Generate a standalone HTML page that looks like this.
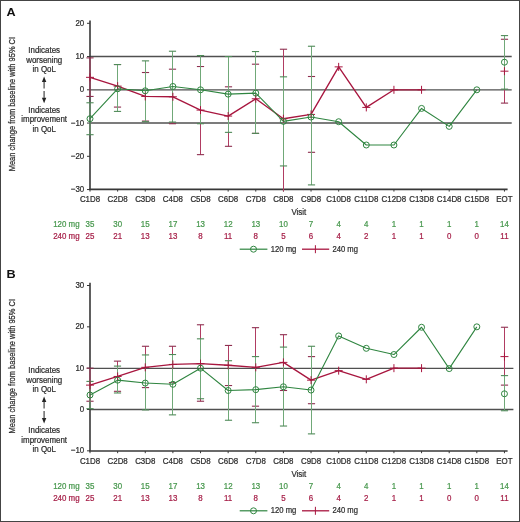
<!DOCTYPE html>
<html><head><meta charset="utf-8"><style>
html,body{margin:0;padding:0;background:#fff;}
svg{display:block;will-change:transform;}
.t{font-family:"Liberation Sans", sans-serif;font-size:9.0px;fill:#2e2e2e;stroke:#2e2e2e;stroke-width:0.25px;}
.L{font-family:"Liberation Sans", sans-serif;font-size:11px;font-weight:bold;fill:#111;}
.yl{font-family:"Liberation Sans", sans-serif;font-size:9.2px;fill:#2e2e2e;stroke:#2e2e2e;stroke-width:0.25px;}
</style></head><body>
<svg width="520" height="522" viewBox="0 0 520 522">
<rect x="0.5" y="0.5" width="519" height="521" fill="#fff" stroke="#444" stroke-width="1"/>
<line x1="90.00" y1="56.50" x2="511.70" y2="56.50" stroke="#505050" stroke-width="1.3"/>
<line x1="90.00" y1="89.90" x2="511.70" y2="89.90" stroke="#505050" stroke-width="1.4"/>
<line x1="90.00" y1="123.00" x2="511.70" y2="123.00" stroke="#505050" stroke-width="1.4"/>
<line x1="90.00" y1="20.50" x2="90.00" y2="189.40" stroke="#383838" stroke-width="1.6"/>
<line x1="89.20" y1="189.40" x2="507.60" y2="189.40" stroke="#383838" stroke-width="1.6"/>
<line x1="87.00" y1="23.30" x2="90.00" y2="23.30" stroke="#383838" stroke-width="1.0"/>
<text transform="translate(84.20,25.90) scale(0.88,1)" text-anchor="end" class="t">20</text>
<line x1="87.00" y1="56.55" x2="90.00" y2="56.55" stroke="#383838" stroke-width="1.0"/>
<text transform="translate(84.20,59.15) scale(0.88,1)" text-anchor="end" class="t">10</text>
<line x1="87.00" y1="89.80" x2="90.00" y2="89.80" stroke="#383838" stroke-width="1.0"/>
<text transform="translate(84.20,92.40) scale(0.88,1)" text-anchor="end" class="t">0</text>
<line x1="87.00" y1="123.05" x2="90.00" y2="123.05" stroke="#383838" stroke-width="1.0"/>
<text transform="translate(84.20,125.65) scale(0.88,1)" text-anchor="end" class="t">−10</text>
<line x1="87.00" y1="156.30" x2="90.00" y2="156.30" stroke="#383838" stroke-width="1.0"/>
<text transform="translate(84.20,158.90) scale(0.88,1)" text-anchor="end" class="t">−20</text>
<line x1="87.00" y1="189.55" x2="90.00" y2="189.55" stroke="#383838" stroke-width="1.0"/>
<text transform="translate(84.20,192.15) scale(0.88,1)" text-anchor="end" class="t">−30</text>
<line x1="90.00" y1="189.40" x2="90.00" y2="191.60" stroke="#383838" stroke-width="1.0"/>
<text transform="translate(90.00,202.30) scale(0.88,1)" text-anchor="middle" class="t">C1D8</text>
<text transform="translate(90.00,227.30) scale(0.88,1)" text-anchor="middle" class="t" style="fill:#48984e;stroke:#48984e">35</text>
<text transform="translate(90.00,239.10) scale(0.88,1)" text-anchor="middle" class="t" style="fill:#a61f48;stroke:#a61f48">25</text>
<line x1="117.63" y1="189.40" x2="117.63" y2="191.60" stroke="#383838" stroke-width="1.0"/>
<text transform="translate(117.63,202.30) scale(0.88,1)" text-anchor="middle" class="t">C2D8</text>
<text transform="translate(117.63,227.30) scale(0.88,1)" text-anchor="middle" class="t" style="fill:#48984e;stroke:#48984e">30</text>
<text transform="translate(117.63,239.10) scale(0.88,1)" text-anchor="middle" class="t" style="fill:#a61f48;stroke:#a61f48">21</text>
<line x1="145.26" y1="189.40" x2="145.26" y2="191.60" stroke="#383838" stroke-width="1.0"/>
<text transform="translate(145.26,202.30) scale(0.88,1)" text-anchor="middle" class="t">C3D8</text>
<text transform="translate(145.26,227.30) scale(0.88,1)" text-anchor="middle" class="t" style="fill:#48984e;stroke:#48984e">15</text>
<text transform="translate(145.26,239.10) scale(0.88,1)" text-anchor="middle" class="t" style="fill:#a61f48;stroke:#a61f48">13</text>
<line x1="172.89" y1="189.40" x2="172.89" y2="191.60" stroke="#383838" stroke-width="1.0"/>
<text transform="translate(172.89,202.30) scale(0.88,1)" text-anchor="middle" class="t">C4D8</text>
<text transform="translate(172.89,227.30) scale(0.88,1)" text-anchor="middle" class="t" style="fill:#48984e;stroke:#48984e">17</text>
<text transform="translate(172.89,239.10) scale(0.88,1)" text-anchor="middle" class="t" style="fill:#a61f48;stroke:#a61f48">13</text>
<line x1="200.52" y1="189.40" x2="200.52" y2="191.60" stroke="#383838" stroke-width="1.0"/>
<text transform="translate(200.52,202.30) scale(0.88,1)" text-anchor="middle" class="t">C5D8</text>
<text transform="translate(200.52,227.30) scale(0.88,1)" text-anchor="middle" class="t" style="fill:#48984e;stroke:#48984e">13</text>
<text transform="translate(200.52,239.10) scale(0.88,1)" text-anchor="middle" class="t" style="fill:#a61f48;stroke:#a61f48">8</text>
<line x1="228.15" y1="189.40" x2="228.15" y2="191.60" stroke="#383838" stroke-width="1.0"/>
<text transform="translate(228.15,202.30) scale(0.88,1)" text-anchor="middle" class="t">C6D8</text>
<text transform="translate(228.15,227.30) scale(0.88,1)" text-anchor="middle" class="t" style="fill:#48984e;stroke:#48984e">12</text>
<text transform="translate(228.15,239.10) scale(0.88,1)" text-anchor="middle" class="t" style="fill:#a61f48;stroke:#a61f48">11</text>
<line x1="255.78" y1="189.40" x2="255.78" y2="191.60" stroke="#383838" stroke-width="1.0"/>
<text transform="translate(255.78,202.30) scale(0.88,1)" text-anchor="middle" class="t">C7D8</text>
<text transform="translate(255.78,227.30) scale(0.88,1)" text-anchor="middle" class="t" style="fill:#48984e;stroke:#48984e">13</text>
<text transform="translate(255.78,239.10) scale(0.88,1)" text-anchor="middle" class="t" style="fill:#a61f48;stroke:#a61f48">8</text>
<line x1="283.41" y1="189.40" x2="283.41" y2="191.60" stroke="#383838" stroke-width="1.0"/>
<text transform="translate(283.41,202.30) scale(0.88,1)" text-anchor="middle" class="t">C8D8</text>
<text transform="translate(283.41,227.30) scale(0.88,1)" text-anchor="middle" class="t" style="fill:#48984e;stroke:#48984e">10</text>
<text transform="translate(283.41,239.10) scale(0.88,1)" text-anchor="middle" class="t" style="fill:#a61f48;stroke:#a61f48">5</text>
<line x1="311.04" y1="189.40" x2="311.04" y2="191.60" stroke="#383838" stroke-width="1.0"/>
<text transform="translate(311.04,202.30) scale(0.88,1)" text-anchor="middle" class="t">C9D8</text>
<text transform="translate(311.04,227.30) scale(0.88,1)" text-anchor="middle" class="t" style="fill:#48984e;stroke:#48984e">7</text>
<text transform="translate(311.04,239.10) scale(0.88,1)" text-anchor="middle" class="t" style="fill:#a61f48;stroke:#a61f48">6</text>
<line x1="338.67" y1="189.40" x2="338.67" y2="191.60" stroke="#383838" stroke-width="1.0"/>
<text transform="translate(338.67,202.30) scale(0.88,1)" text-anchor="middle" class="t">C10D8</text>
<text transform="translate(338.67,227.30) scale(0.88,1)" text-anchor="middle" class="t" style="fill:#48984e;stroke:#48984e">4</text>
<text transform="translate(338.67,239.10) scale(0.88,1)" text-anchor="middle" class="t" style="fill:#a61f48;stroke:#a61f48">4</text>
<line x1="366.30" y1="189.40" x2="366.30" y2="191.60" stroke="#383838" stroke-width="1.0"/>
<text transform="translate(366.30,202.30) scale(0.88,1)" text-anchor="middle" class="t">C11D8</text>
<text transform="translate(366.30,227.30) scale(0.88,1)" text-anchor="middle" class="t" style="fill:#48984e;stroke:#48984e">4</text>
<text transform="translate(366.30,239.10) scale(0.88,1)" text-anchor="middle" class="t" style="fill:#a61f48;stroke:#a61f48">2</text>
<line x1="393.93" y1="189.40" x2="393.93" y2="191.60" stroke="#383838" stroke-width="1.0"/>
<text transform="translate(393.93,202.30) scale(0.88,1)" text-anchor="middle" class="t">C12D8</text>
<text transform="translate(393.93,227.30) scale(0.88,1)" text-anchor="middle" class="t" style="fill:#48984e;stroke:#48984e">1</text>
<text transform="translate(393.93,239.10) scale(0.88,1)" text-anchor="middle" class="t" style="fill:#a61f48;stroke:#a61f48">1</text>
<line x1="421.56" y1="189.40" x2="421.56" y2="191.60" stroke="#383838" stroke-width="1.0"/>
<text transform="translate(421.56,202.30) scale(0.88,1)" text-anchor="middle" class="t">C13D8</text>
<text transform="translate(421.56,227.30) scale(0.88,1)" text-anchor="middle" class="t" style="fill:#48984e;stroke:#48984e">1</text>
<text transform="translate(421.56,239.10) scale(0.88,1)" text-anchor="middle" class="t" style="fill:#a61f48;stroke:#a61f48">1</text>
<line x1="449.19" y1="189.40" x2="449.19" y2="191.60" stroke="#383838" stroke-width="1.0"/>
<text transform="translate(449.19,202.30) scale(0.88,1)" text-anchor="middle" class="t">C14D8</text>
<text transform="translate(449.19,227.30) scale(0.88,1)" text-anchor="middle" class="t" style="fill:#48984e;stroke:#48984e">1</text>
<text transform="translate(449.19,239.10) scale(0.88,1)" text-anchor="middle" class="t" style="fill:#a61f48;stroke:#a61f48">0</text>
<line x1="476.82" y1="189.40" x2="476.82" y2="191.60" stroke="#383838" stroke-width="1.0"/>
<text transform="translate(476.82,202.30) scale(0.88,1)" text-anchor="middle" class="t">C15D8</text>
<text transform="translate(476.82,227.30) scale(0.88,1)" text-anchor="middle" class="t" style="fill:#48984e;stroke:#48984e">1</text>
<text transform="translate(476.82,239.10) scale(0.88,1)" text-anchor="middle" class="t" style="fill:#a61f48;stroke:#a61f48">0</text>
<line x1="504.45" y1="189.40" x2="504.45" y2="191.60" stroke="#383838" stroke-width="1.0"/>
<text transform="translate(504.45,202.30) scale(0.88,1)" text-anchor="middle" class="t">EOT</text>
<text transform="translate(504.45,227.30) scale(0.88,1)" text-anchor="middle" class="t" style="fill:#48984e;stroke:#48984e">14</text>
<text transform="translate(504.45,239.10) scale(0.88,1)" text-anchor="middle" class="t" style="fill:#a61f48;stroke:#a61f48">11</text>
<text transform="translate(298.80,215.00) scale(0.88,1)" text-anchor="middle" class="t">Visit</text>
<text transform="translate(79.60,227.30) scale(0.88,1)" text-anchor="end" class="t" style="fill:#48984e;stroke:#48984e">120 mg</text>
<text transform="translate(79.60,239.10) scale(0.88,1)" text-anchor="end" class="t" style="fill:#a61f48;stroke:#a61f48">240 mg</text>
<line x1="239.70" y1="249.20" x2="267.40" y2="249.20" stroke="#2f8540" stroke-width="1.2"/>
<circle cx="253.5" cy="249.20" r="3.0" fill="none" stroke="#2f8540" stroke-width="1"/>
<text transform="translate(270.80,251.80) scale(0.85,1)" class="t">120 mg</text>
<line x1="302.00" y1="249.20" x2="329.20" y2="249.20" stroke="#a8163f" stroke-width="1.3"/>
<line x1="315.40" y1="245.20" x2="315.40" y2="253.20" stroke="#a8163f" stroke-width="1.0"/>
<text transform="translate(332.40,251.80) scale(0.85,1)" class="t">240 mg</text>
<text transform="translate(6.60,16.10) scale(1.15,1)" class="L">A</text>
<text transform="translate(15.2,104.10) rotate(-90)" text-anchor="middle" class="yl" textLength="134.4" lengthAdjust="spacingAndGlyphs">Mean change from baseline with 95% CI</text>
<text transform="translate(44.20,53.10) scale(0.88,1)" text-anchor="middle" class="t">Indicates</text>
<text transform="translate(44.20,62.70) scale(0.88,1)" text-anchor="middle" class="t">worsening</text>
<text transform="translate(44.20,72.30) scale(0.88,1)" text-anchor="middle" class="t">in QoL</text>
<text transform="translate(44.20,112.70) scale(0.88,1)" text-anchor="middle" class="t">Indicates</text>
<text transform="translate(44.20,122.40) scale(0.88,1)" text-anchor="middle" class="t">improvement</text>
<text transform="translate(44.20,132.10) scale(0.88,1)" text-anchor="middle" class="t">in QoL</text>
<path d="M44.1 76.50 L46.3 82.00 L41.9 82.00 Z" fill="#222"/>
<path d="M44.1 103.30 L46.3 97.80 L41.9 97.80 Z" fill="#222"/>
<line x1="44.10" y1="81.70" x2="44.10" y2="88.50" stroke="#555" stroke-width="1.3"/>
<line x1="44.10" y1="90.90" x2="44.10" y2="98.10" stroke="#555" stroke-width="1.3"/>
<line x1="90.00" y1="57.88" x2="90.00" y2="96.45" stroke="#b03c62" stroke-width="1.0"/>
<line x1="86.40" y1="57.88" x2="93.60" y2="57.88" stroke="#8e2f50" stroke-width="1.1"/>
<line x1="86.40" y1="96.45" x2="93.60" y2="96.45" stroke="#8e2f50" stroke-width="1.1"/>
<line x1="117.50" y1="64.53" x2="117.50" y2="107.09" stroke="#b03c62" stroke-width="1.0"/>
<line x1="113.90" y1="64.53" x2="121.10" y2="64.53" stroke="#8e2f50" stroke-width="1.1"/>
<line x1="113.90" y1="107.09" x2="121.10" y2="107.09" stroke="#8e2f50" stroke-width="1.1"/>
<line x1="145.50" y1="72.51" x2="145.50" y2="121.06" stroke="#b03c62" stroke-width="1.0"/>
<line x1="141.90" y1="72.51" x2="149.10" y2="72.51" stroke="#8e2f50" stroke-width="1.1"/>
<line x1="141.90" y1="121.06" x2="149.10" y2="121.06" stroke="#8e2f50" stroke-width="1.1"/>
<line x1="172.50" y1="69.19" x2="172.50" y2="123.72" stroke="#b03c62" stroke-width="1.0"/>
<line x1="168.90" y1="69.19" x2="176.10" y2="69.19" stroke="#8e2f50" stroke-width="1.1"/>
<line x1="168.90" y1="123.72" x2="176.10" y2="123.72" stroke="#8e2f50" stroke-width="1.1"/>
<line x1="200.50" y1="66.52" x2="200.50" y2="154.64" stroke="#b03c62" stroke-width="1.0"/>
<line x1="196.90" y1="66.52" x2="204.10" y2="66.52" stroke="#8e2f50" stroke-width="1.1"/>
<line x1="196.90" y1="154.64" x2="204.10" y2="154.64" stroke="#8e2f50" stroke-width="1.1"/>
<line x1="228.50" y1="86.81" x2="228.50" y2="146.32" stroke="#b03c62" stroke-width="1.0"/>
<line x1="224.90" y1="86.81" x2="232.10" y2="86.81" stroke="#8e2f50" stroke-width="1.1"/>
<line x1="224.90" y1="146.32" x2="232.10" y2="146.32" stroke="#8e2f50" stroke-width="1.1"/>
<line x1="255.50" y1="64.20" x2="255.50" y2="133.36" stroke="#b03c62" stroke-width="1.0"/>
<line x1="251.90" y1="64.20" x2="259.10" y2="64.20" stroke="#8e2f50" stroke-width="1.1"/>
<line x1="251.90" y1="133.36" x2="259.10" y2="133.36" stroke="#8e2f50" stroke-width="1.1"/>
<line x1="283.50" y1="49.23" x2="283.50" y2="191.40" stroke="#b03c62" stroke-width="1.0"/>
<line x1="279.90" y1="49.23" x2="287.10" y2="49.23" stroke="#8e2f50" stroke-width="1.1"/>
<line x1="311.50" y1="76.50" x2="311.50" y2="152.31" stroke="#b03c62" stroke-width="1.0"/>
<line x1="307.90" y1="76.50" x2="315.10" y2="76.50" stroke="#8e2f50" stroke-width="1.1"/>
<line x1="307.90" y1="152.31" x2="315.10" y2="152.31" stroke="#8e2f50" stroke-width="1.1"/>
<line x1="504.50" y1="39.26" x2="504.50" y2="103.10" stroke="#b03c62" stroke-width="1.0"/>
<line x1="500.90" y1="39.26" x2="508.10" y2="39.26" stroke="#8e2f50" stroke-width="1.1"/>
<line x1="500.90" y1="103.10" x2="508.10" y2="103.10" stroke="#8e2f50" stroke-width="1.1"/>
<line x1="90.00" y1="102.77" x2="90.00" y2="134.69" stroke="#70a878" stroke-width="1.0"/>
<line x1="86.40" y1="102.77" x2="93.60" y2="102.77" stroke="#4f8a58" stroke-width="1.1"/>
<line x1="86.40" y1="134.69" x2="93.60" y2="134.69" stroke="#4f8a58" stroke-width="1.1"/>
<line x1="117.50" y1="64.53" x2="117.50" y2="111.41" stroke="#70a878" stroke-width="1.0"/>
<line x1="113.90" y1="64.53" x2="121.10" y2="64.53" stroke="#4f8a58" stroke-width="1.1"/>
<line x1="113.90" y1="111.41" x2="121.10" y2="111.41" stroke="#4f8a58" stroke-width="1.1"/>
<line x1="145.50" y1="60.87" x2="145.50" y2="121.72" stroke="#70a878" stroke-width="1.0"/>
<line x1="141.90" y1="60.87" x2="149.10" y2="60.87" stroke="#4f8a58" stroke-width="1.1"/>
<line x1="141.90" y1="121.72" x2="149.10" y2="121.72" stroke="#4f8a58" stroke-width="1.1"/>
<line x1="172.50" y1="51.23" x2="172.50" y2="122.05" stroke="#70a878" stroke-width="1.0"/>
<line x1="168.90" y1="51.23" x2="176.10" y2="51.23" stroke="#4f8a58" stroke-width="1.1"/>
<line x1="168.90" y1="122.05" x2="176.10" y2="122.05" stroke="#4f8a58" stroke-width="1.1"/>
<line x1="200.50" y1="55.55" x2="200.50" y2="123.72" stroke="#70a878" stroke-width="1.0"/>
<line x1="196.90" y1="55.55" x2="204.10" y2="55.55" stroke="#4f8a58" stroke-width="1.1"/>
<line x1="196.90" y1="123.72" x2="204.10" y2="123.72" stroke="#4f8a58" stroke-width="1.1"/>
<line x1="228.50" y1="56.55" x2="228.50" y2="132.36" stroke="#70a878" stroke-width="1.0"/>
<line x1="224.90" y1="56.55" x2="232.10" y2="56.55" stroke="#4f8a58" stroke-width="1.1"/>
<line x1="224.90" y1="132.36" x2="232.10" y2="132.36" stroke="#4f8a58" stroke-width="1.1"/>
<line x1="255.50" y1="51.56" x2="255.50" y2="133.36" stroke="#70a878" stroke-width="1.0"/>
<line x1="251.90" y1="51.56" x2="259.10" y2="51.56" stroke="#4f8a58" stroke-width="1.1"/>
<line x1="251.90" y1="133.36" x2="259.10" y2="133.36" stroke="#4f8a58" stroke-width="1.1"/>
<line x1="283.50" y1="76.83" x2="283.50" y2="165.94" stroke="#70a878" stroke-width="1.0"/>
<line x1="279.90" y1="76.83" x2="287.10" y2="76.83" stroke="#4f8a58" stroke-width="1.1"/>
<line x1="279.90" y1="165.94" x2="287.10" y2="165.94" stroke="#4f8a58" stroke-width="1.1"/>
<line x1="311.50" y1="46.24" x2="311.50" y2="184.90" stroke="#70a878" stroke-width="1.0"/>
<line x1="307.90" y1="46.24" x2="315.10" y2="46.24" stroke="#4f8a58" stroke-width="1.1"/>
<line x1="307.90" y1="184.90" x2="315.10" y2="184.90" stroke="#4f8a58" stroke-width="1.1"/>
<line x1="504.50" y1="35.60" x2="504.50" y2="89.13" stroke="#70a878" stroke-width="1.0"/>
<line x1="500.90" y1="35.60" x2="508.10" y2="35.60" stroke="#4f8a58" stroke-width="1.1"/>
<line x1="500.90" y1="89.13" x2="508.10" y2="89.13" stroke="#4f8a58" stroke-width="1.1"/>
<polyline points="90.00,77.33 117.63,86.14 145.26,96.45 172.89,96.78 200.52,110.08 228.15,116.07 255.78,98.78 283.41,118.73 311.04,114.41 338.67,66.86 366.30,107.42 393.93,89.80 421.56,89.80" fill="none" stroke="#a8163f" stroke-width="1.35" stroke-linejoin="round"/>
<path d="M86.00 77.33 H94.00 M90.00 73.33 V81.33" stroke="#a8163f" stroke-width="1"/>
<path d="M113.63 86.14 H121.63 M117.63 82.14 V90.14" stroke="#a8163f" stroke-width="1"/>
<path d="M141.26 96.45 H149.26 M145.26 92.45 V100.45" stroke="#a8163f" stroke-width="1"/>
<path d="M168.89 96.78 H176.89 M172.89 92.78 V100.78" stroke="#a8163f" stroke-width="1"/>
<path d="M196.52 110.08 H204.52 M200.52 106.08 V114.08" stroke="#a8163f" stroke-width="1"/>
<path d="M224.15 116.07 H232.15 M228.15 112.07 V120.07" stroke="#a8163f" stroke-width="1"/>
<path d="M251.78 98.78 H259.78 M255.78 94.78 V102.78" stroke="#a8163f" stroke-width="1"/>
<path d="M279.41 118.73 H287.41 M283.41 114.73 V122.73" stroke="#a8163f" stroke-width="1"/>
<path d="M307.04 114.41 H315.04 M311.04 110.41 V118.41" stroke="#a8163f" stroke-width="1"/>
<path d="M334.67 66.86 H342.67 M338.67 62.86 V70.86" stroke="#a8163f" stroke-width="1"/>
<path d="M362.30 107.42 H370.30 M366.30 103.42 V111.42" stroke="#a8163f" stroke-width="1"/>
<path d="M389.93 89.80 H397.93 M393.93 85.80 V93.80" stroke="#a8163f" stroke-width="1"/>
<path d="M417.56 89.80 H425.56 M421.56 85.80 V93.80" stroke="#a8163f" stroke-width="1"/>
<path d="M500.45 71.18 H508.45 M504.45 67.18 V75.18" stroke="#a8163f" stroke-width="1"/>
<polyline points="90.00,118.73 117.63,88.80 145.26,90.80 172.89,86.47 200.52,89.80 228.15,94.12 255.78,93.12 283.41,121.39 311.04,117.06 338.67,121.72 366.30,145.00 393.93,145.00 421.56,108.42 449.19,126.38 476.82,89.80" fill="none" stroke="#2f8540" stroke-width="1.1" stroke-linejoin="round"/>
<circle cx="90.00" cy="118.73" r="3.0" fill="none" stroke="#2f8540" stroke-width="1"/>
<circle cx="117.63" cy="88.80" r="3.0" fill="none" stroke="#2f8540" stroke-width="1"/>
<circle cx="145.26" cy="90.80" r="3.0" fill="none" stroke="#2f8540" stroke-width="1"/>
<circle cx="172.89" cy="86.47" r="3.0" fill="none" stroke="#2f8540" stroke-width="1"/>
<circle cx="200.52" cy="89.80" r="3.0" fill="none" stroke="#2f8540" stroke-width="1"/>
<circle cx="228.15" cy="94.12" r="3.0" fill="none" stroke="#2f8540" stroke-width="1"/>
<circle cx="255.78" cy="93.12" r="3.0" fill="none" stroke="#2f8540" stroke-width="1"/>
<circle cx="283.41" cy="121.39" r="3.0" fill="none" stroke="#2f8540" stroke-width="1"/>
<circle cx="311.04" cy="117.06" r="3.0" fill="none" stroke="#2f8540" stroke-width="1"/>
<circle cx="338.67" cy="121.72" r="3.0" fill="none" stroke="#2f8540" stroke-width="1"/>
<circle cx="366.30" cy="145.00" r="3.0" fill="none" stroke="#2f8540" stroke-width="1"/>
<circle cx="393.93" cy="145.00" r="3.0" fill="none" stroke="#2f8540" stroke-width="1"/>
<circle cx="421.56" cy="108.42" r="3.0" fill="none" stroke="#2f8540" stroke-width="1"/>
<circle cx="449.19" cy="126.38" r="3.0" fill="none" stroke="#2f8540" stroke-width="1"/>
<circle cx="476.82" cy="89.80" r="3.0" fill="none" stroke="#2f8540" stroke-width="1"/>
<circle cx="504.45" cy="62.20" r="3.0" fill="none" stroke="#2f8540" stroke-width="1"/>
<line x1="90.00" y1="368.30" x2="513.40" y2="368.30" stroke="#505050" stroke-width="1.3"/>
<line x1="90.00" y1="409.50" x2="513.40" y2="409.50" stroke="#505050" stroke-width="1.3"/>
<line x1="90.00" y1="282.70" x2="90.00" y2="451.00" stroke="#383838" stroke-width="1.6"/>
<line x1="89.20" y1="451.00" x2="507.60" y2="451.00" stroke="#383838" stroke-width="1.6"/>
<line x1="87.00" y1="285.51" x2="90.00" y2="285.51" stroke="#383838" stroke-width="1.0"/>
<text transform="translate(84.20,288.11) scale(0.88,1)" text-anchor="end" class="t">30</text>
<line x1="87.00" y1="326.84" x2="90.00" y2="326.84" stroke="#383838" stroke-width="1.0"/>
<text transform="translate(84.20,329.44) scale(0.88,1)" text-anchor="end" class="t">20</text>
<line x1="87.00" y1="368.17" x2="90.00" y2="368.17" stroke="#383838" stroke-width="1.0"/>
<text transform="translate(84.20,370.77) scale(0.88,1)" text-anchor="end" class="t">10</text>
<line x1="87.00" y1="409.50" x2="90.00" y2="409.50" stroke="#383838" stroke-width="1.0"/>
<text transform="translate(84.20,412.10) scale(0.88,1)" text-anchor="end" class="t">0</text>
<line x1="87.00" y1="450.83" x2="90.00" y2="450.83" stroke="#383838" stroke-width="1.0"/>
<text transform="translate(84.20,453.43) scale(0.88,1)" text-anchor="end" class="t">−10</text>
<line x1="90.00" y1="451.00" x2="90.00" y2="453.20" stroke="#383838" stroke-width="1.0"/>
<text transform="translate(90.00,463.90) scale(0.88,1)" text-anchor="middle" class="t">C1D8</text>
<text transform="translate(90.00,488.90) scale(0.88,1)" text-anchor="middle" class="t" style="fill:#48984e;stroke:#48984e">35</text>
<text transform="translate(90.00,500.70) scale(0.88,1)" text-anchor="middle" class="t" style="fill:#a61f48;stroke:#a61f48">25</text>
<line x1="117.63" y1="451.00" x2="117.63" y2="453.20" stroke="#383838" stroke-width="1.0"/>
<text transform="translate(117.63,463.90) scale(0.88,1)" text-anchor="middle" class="t">C2D8</text>
<text transform="translate(117.63,488.90) scale(0.88,1)" text-anchor="middle" class="t" style="fill:#48984e;stroke:#48984e">30</text>
<text transform="translate(117.63,500.70) scale(0.88,1)" text-anchor="middle" class="t" style="fill:#a61f48;stroke:#a61f48">21</text>
<line x1="145.26" y1="451.00" x2="145.26" y2="453.20" stroke="#383838" stroke-width="1.0"/>
<text transform="translate(145.26,463.90) scale(0.88,1)" text-anchor="middle" class="t">C3D8</text>
<text transform="translate(145.26,488.90) scale(0.88,1)" text-anchor="middle" class="t" style="fill:#48984e;stroke:#48984e">15</text>
<text transform="translate(145.26,500.70) scale(0.88,1)" text-anchor="middle" class="t" style="fill:#a61f48;stroke:#a61f48">13</text>
<line x1="172.89" y1="451.00" x2="172.89" y2="453.20" stroke="#383838" stroke-width="1.0"/>
<text transform="translate(172.89,463.90) scale(0.88,1)" text-anchor="middle" class="t">C4D8</text>
<text transform="translate(172.89,488.90) scale(0.88,1)" text-anchor="middle" class="t" style="fill:#48984e;stroke:#48984e">17</text>
<text transform="translate(172.89,500.70) scale(0.88,1)" text-anchor="middle" class="t" style="fill:#a61f48;stroke:#a61f48">13</text>
<line x1="200.52" y1="451.00" x2="200.52" y2="453.20" stroke="#383838" stroke-width="1.0"/>
<text transform="translate(200.52,463.90) scale(0.88,1)" text-anchor="middle" class="t">C5D8</text>
<text transform="translate(200.52,488.90) scale(0.88,1)" text-anchor="middle" class="t" style="fill:#48984e;stroke:#48984e">13</text>
<text transform="translate(200.52,500.70) scale(0.88,1)" text-anchor="middle" class="t" style="fill:#a61f48;stroke:#a61f48">8</text>
<line x1="228.15" y1="451.00" x2="228.15" y2="453.20" stroke="#383838" stroke-width="1.0"/>
<text transform="translate(228.15,463.90) scale(0.88,1)" text-anchor="middle" class="t">C6D8</text>
<text transform="translate(228.15,488.90) scale(0.88,1)" text-anchor="middle" class="t" style="fill:#48984e;stroke:#48984e">12</text>
<text transform="translate(228.15,500.70) scale(0.88,1)" text-anchor="middle" class="t" style="fill:#a61f48;stroke:#a61f48">11</text>
<line x1="255.78" y1="451.00" x2="255.78" y2="453.20" stroke="#383838" stroke-width="1.0"/>
<text transform="translate(255.78,463.90) scale(0.88,1)" text-anchor="middle" class="t">C7D8</text>
<text transform="translate(255.78,488.90) scale(0.88,1)" text-anchor="middle" class="t" style="fill:#48984e;stroke:#48984e">13</text>
<text transform="translate(255.78,500.70) scale(0.88,1)" text-anchor="middle" class="t" style="fill:#a61f48;stroke:#a61f48">8</text>
<line x1="283.41" y1="451.00" x2="283.41" y2="453.20" stroke="#383838" stroke-width="1.0"/>
<text transform="translate(283.41,463.90) scale(0.88,1)" text-anchor="middle" class="t">C8D8</text>
<text transform="translate(283.41,488.90) scale(0.88,1)" text-anchor="middle" class="t" style="fill:#48984e;stroke:#48984e">10</text>
<text transform="translate(283.41,500.70) scale(0.88,1)" text-anchor="middle" class="t" style="fill:#a61f48;stroke:#a61f48">5</text>
<line x1="311.04" y1="451.00" x2="311.04" y2="453.20" stroke="#383838" stroke-width="1.0"/>
<text transform="translate(311.04,463.90) scale(0.88,1)" text-anchor="middle" class="t">C9D8</text>
<text transform="translate(311.04,488.90) scale(0.88,1)" text-anchor="middle" class="t" style="fill:#48984e;stroke:#48984e">7</text>
<text transform="translate(311.04,500.70) scale(0.88,1)" text-anchor="middle" class="t" style="fill:#a61f48;stroke:#a61f48">6</text>
<line x1="338.67" y1="451.00" x2="338.67" y2="453.20" stroke="#383838" stroke-width="1.0"/>
<text transform="translate(338.67,463.90) scale(0.88,1)" text-anchor="middle" class="t">C10D8</text>
<text transform="translate(338.67,488.90) scale(0.88,1)" text-anchor="middle" class="t" style="fill:#48984e;stroke:#48984e">4</text>
<text transform="translate(338.67,500.70) scale(0.88,1)" text-anchor="middle" class="t" style="fill:#a61f48;stroke:#a61f48">4</text>
<line x1="366.30" y1="451.00" x2="366.30" y2="453.20" stroke="#383838" stroke-width="1.0"/>
<text transform="translate(366.30,463.90) scale(0.88,1)" text-anchor="middle" class="t">C11D8</text>
<text transform="translate(366.30,488.90) scale(0.88,1)" text-anchor="middle" class="t" style="fill:#48984e;stroke:#48984e">4</text>
<text transform="translate(366.30,500.70) scale(0.88,1)" text-anchor="middle" class="t" style="fill:#a61f48;stroke:#a61f48">2</text>
<line x1="393.93" y1="451.00" x2="393.93" y2="453.20" stroke="#383838" stroke-width="1.0"/>
<text transform="translate(393.93,463.90) scale(0.88,1)" text-anchor="middle" class="t">C12D8</text>
<text transform="translate(393.93,488.90) scale(0.88,1)" text-anchor="middle" class="t" style="fill:#48984e;stroke:#48984e">1</text>
<text transform="translate(393.93,500.70) scale(0.88,1)" text-anchor="middle" class="t" style="fill:#a61f48;stroke:#a61f48">1</text>
<line x1="421.56" y1="451.00" x2="421.56" y2="453.20" stroke="#383838" stroke-width="1.0"/>
<text transform="translate(421.56,463.90) scale(0.88,1)" text-anchor="middle" class="t">C13D8</text>
<text transform="translate(421.56,488.90) scale(0.88,1)" text-anchor="middle" class="t" style="fill:#48984e;stroke:#48984e">1</text>
<text transform="translate(421.56,500.70) scale(0.88,1)" text-anchor="middle" class="t" style="fill:#a61f48;stroke:#a61f48">1</text>
<line x1="449.19" y1="451.00" x2="449.19" y2="453.20" stroke="#383838" stroke-width="1.0"/>
<text transform="translate(449.19,463.90) scale(0.88,1)" text-anchor="middle" class="t">C14D8</text>
<text transform="translate(449.19,488.90) scale(0.88,1)" text-anchor="middle" class="t" style="fill:#48984e;stroke:#48984e">1</text>
<text transform="translate(449.19,500.70) scale(0.88,1)" text-anchor="middle" class="t" style="fill:#a61f48;stroke:#a61f48">0</text>
<line x1="476.82" y1="451.00" x2="476.82" y2="453.20" stroke="#383838" stroke-width="1.0"/>
<text transform="translate(476.82,463.90) scale(0.88,1)" text-anchor="middle" class="t">C15D8</text>
<text transform="translate(476.82,488.90) scale(0.88,1)" text-anchor="middle" class="t" style="fill:#48984e;stroke:#48984e">1</text>
<text transform="translate(476.82,500.70) scale(0.88,1)" text-anchor="middle" class="t" style="fill:#a61f48;stroke:#a61f48">0</text>
<line x1="504.45" y1="451.00" x2="504.45" y2="453.20" stroke="#383838" stroke-width="1.0"/>
<text transform="translate(504.45,463.90) scale(0.88,1)" text-anchor="middle" class="t">EOT</text>
<text transform="translate(504.45,488.90) scale(0.88,1)" text-anchor="middle" class="t" style="fill:#48984e;stroke:#48984e">14</text>
<text transform="translate(504.45,500.70) scale(0.88,1)" text-anchor="middle" class="t" style="fill:#a61f48;stroke:#a61f48">11</text>
<text transform="translate(298.80,476.60) scale(0.88,1)" text-anchor="middle" class="t">Visit</text>
<text transform="translate(79.60,488.90) scale(0.88,1)" text-anchor="end" class="t" style="fill:#48984e;stroke:#48984e">120 mg</text>
<text transform="translate(79.60,500.70) scale(0.88,1)" text-anchor="end" class="t" style="fill:#a61f48;stroke:#a61f48">240 mg</text>
<line x1="239.70" y1="510.80" x2="267.40" y2="510.80" stroke="#2f8540" stroke-width="1.2"/>
<circle cx="253.5" cy="510.80" r="3.0" fill="none" stroke="#2f8540" stroke-width="1"/>
<text transform="translate(270.80,513.40) scale(0.85,1)" class="t">120 mg</text>
<line x1="302.00" y1="510.80" x2="329.20" y2="510.80" stroke="#a8163f" stroke-width="1.3"/>
<line x1="315.40" y1="506.80" x2="315.40" y2="514.80" stroke="#a8163f" stroke-width="1.0"/>
<text transform="translate(332.40,513.40) scale(0.85,1)" class="t">240 mg</text>
<text transform="translate(6.60,278.00) scale(1.15,1)" class="L">B</text>
<text transform="translate(15.2,366.20) rotate(-90)" text-anchor="middle" class="yl" textLength="134.4" lengthAdjust="spacingAndGlyphs">Mean change from baseline with 95% CI</text>
<text transform="translate(44.20,373.20) scale(0.88,1)" text-anchor="middle" class="t">Indicates</text>
<text transform="translate(44.20,382.80) scale(0.88,1)" text-anchor="middle" class="t">worsening</text>
<text transform="translate(44.20,392.40) scale(0.88,1)" text-anchor="middle" class="t">in QoL</text>
<text transform="translate(44.20,432.80) scale(0.88,1)" text-anchor="middle" class="t">Indicates</text>
<text transform="translate(44.20,442.50) scale(0.88,1)" text-anchor="middle" class="t">improvement</text>
<text transform="translate(44.20,452.20) scale(0.88,1)" text-anchor="middle" class="t">in QoL</text>
<path d="M44.1 396.60 L46.3 402.10 L41.9 402.10 Z" fill="#222"/>
<path d="M44.1 423.40 L46.3 417.90 L41.9 417.90 Z" fill="#222"/>
<line x1="44.10" y1="401.80" x2="44.10" y2="408.60" stroke="#555" stroke-width="1.3"/>
<line x1="44.10" y1="411.00" x2="44.10" y2="418.20" stroke="#555" stroke-width="1.3"/>
<line x1="90.00" y1="368.17" x2="90.00" y2="401.23" stroke="#b03c62" stroke-width="1.0"/>
<line x1="86.40" y1="368.17" x2="93.60" y2="368.17" stroke="#8e2f50" stroke-width="1.1"/>
<line x1="86.40" y1="401.23" x2="93.60" y2="401.23" stroke="#8e2f50" stroke-width="1.1"/>
<line x1="117.50" y1="361.14" x2="117.50" y2="391.31" stroke="#b03c62" stroke-width="1.0"/>
<line x1="113.90" y1="361.14" x2="121.10" y2="361.14" stroke="#8e2f50" stroke-width="1.1"/>
<line x1="113.90" y1="391.31" x2="121.10" y2="391.31" stroke="#8e2f50" stroke-width="1.1"/>
<line x1="145.50" y1="346.27" x2="145.50" y2="387.60" stroke="#b03c62" stroke-width="1.0"/>
<line x1="141.90" y1="346.27" x2="149.10" y2="346.27" stroke="#8e2f50" stroke-width="1.1"/>
<line x1="141.90" y1="387.60" x2="149.10" y2="387.60" stroke="#8e2f50" stroke-width="1.1"/>
<line x1="172.50" y1="346.27" x2="172.50" y2="382.64" stroke="#b03c62" stroke-width="1.0"/>
<line x1="168.90" y1="346.27" x2="176.10" y2="346.27" stroke="#8e2f50" stroke-width="1.1"/>
<line x1="168.90" y1="382.64" x2="176.10" y2="382.64" stroke="#8e2f50" stroke-width="1.1"/>
<line x1="200.50" y1="324.77" x2="200.50" y2="401.23" stroke="#b03c62" stroke-width="1.0"/>
<line x1="196.90" y1="324.77" x2="204.10" y2="324.77" stroke="#8e2f50" stroke-width="1.1"/>
<line x1="196.90" y1="401.23" x2="204.10" y2="401.23" stroke="#8e2f50" stroke-width="1.1"/>
<line x1="228.50" y1="345.44" x2="228.50" y2="385.53" stroke="#b03c62" stroke-width="1.0"/>
<line x1="224.90" y1="345.44" x2="232.10" y2="345.44" stroke="#8e2f50" stroke-width="1.1"/>
<line x1="224.90" y1="385.53" x2="232.10" y2="385.53" stroke="#8e2f50" stroke-width="1.1"/>
<line x1="255.50" y1="327.67" x2="255.50" y2="406.19" stroke="#b03c62" stroke-width="1.0"/>
<line x1="251.90" y1="327.67" x2="259.10" y2="327.67" stroke="#8e2f50" stroke-width="1.1"/>
<line x1="251.90" y1="406.19" x2="259.10" y2="406.19" stroke="#8e2f50" stroke-width="1.1"/>
<line x1="283.50" y1="334.69" x2="283.50" y2="390.49" stroke="#b03c62" stroke-width="1.0"/>
<line x1="279.90" y1="334.69" x2="287.10" y2="334.69" stroke="#8e2f50" stroke-width="1.1"/>
<line x1="279.90" y1="390.49" x2="287.10" y2="390.49" stroke="#8e2f50" stroke-width="1.1"/>
<line x1="311.50" y1="356.60" x2="311.50" y2="403.71" stroke="#b03c62" stroke-width="1.0"/>
<line x1="307.90" y1="356.60" x2="315.10" y2="356.60" stroke="#8e2f50" stroke-width="1.1"/>
<line x1="307.90" y1="403.71" x2="315.10" y2="403.71" stroke="#8e2f50" stroke-width="1.1"/>
<line x1="504.50" y1="327.25" x2="504.50" y2="385.12" stroke="#b03c62" stroke-width="1.0"/>
<line x1="500.90" y1="327.25" x2="508.10" y2="327.25" stroke="#8e2f50" stroke-width="1.1"/>
<line x1="500.90" y1="385.12" x2="508.10" y2="385.12" stroke="#8e2f50" stroke-width="1.1"/>
<line x1="90.00" y1="381.40" x2="90.00" y2="408.67" stroke="#70a878" stroke-width="1.0"/>
<line x1="86.40" y1="381.40" x2="93.60" y2="381.40" stroke="#4f8a58" stroke-width="1.1"/>
<line x1="86.40" y1="408.67" x2="93.60" y2="408.67" stroke="#4f8a58" stroke-width="1.1"/>
<line x1="117.50" y1="366.10" x2="117.50" y2="392.97" stroke="#70a878" stroke-width="1.0"/>
<line x1="113.90" y1="366.10" x2="121.10" y2="366.10" stroke="#4f8a58" stroke-width="1.1"/>
<line x1="113.90" y1="392.97" x2="121.10" y2="392.97" stroke="#4f8a58" stroke-width="1.1"/>
<line x1="145.50" y1="354.94" x2="145.50" y2="409.91" stroke="#70a878" stroke-width="1.0"/>
<line x1="141.90" y1="354.94" x2="149.10" y2="354.94" stroke="#4f8a58" stroke-width="1.1"/>
<line x1="141.90" y1="409.91" x2="149.10" y2="409.91" stroke="#4f8a58" stroke-width="1.1"/>
<line x1="172.50" y1="354.53" x2="172.50" y2="414.87" stroke="#70a878" stroke-width="1.0"/>
<line x1="168.90" y1="354.53" x2="176.10" y2="354.53" stroke="#4f8a58" stroke-width="1.1"/>
<line x1="168.90" y1="414.87" x2="176.10" y2="414.87" stroke="#4f8a58" stroke-width="1.1"/>
<line x1="200.50" y1="338.83" x2="200.50" y2="398.75" stroke="#70a878" stroke-width="1.0"/>
<line x1="196.90" y1="338.83" x2="204.10" y2="338.83" stroke="#4f8a58" stroke-width="1.1"/>
<line x1="196.90" y1="398.75" x2="204.10" y2="398.75" stroke="#4f8a58" stroke-width="1.1"/>
<line x1="228.50" y1="360.73" x2="228.50" y2="420.25" stroke="#70a878" stroke-width="1.0"/>
<line x1="224.90" y1="360.73" x2="232.10" y2="360.73" stroke="#4f8a58" stroke-width="1.1"/>
<line x1="224.90" y1="420.25" x2="232.10" y2="420.25" stroke="#4f8a58" stroke-width="1.1"/>
<line x1="255.50" y1="356.60" x2="255.50" y2="422.73" stroke="#70a878" stroke-width="1.0"/>
<line x1="251.90" y1="356.60" x2="259.10" y2="356.60" stroke="#4f8a58" stroke-width="1.1"/>
<line x1="251.90" y1="422.73" x2="259.10" y2="422.73" stroke="#4f8a58" stroke-width="1.1"/>
<line x1="283.50" y1="347.09" x2="283.50" y2="426.03" stroke="#70a878" stroke-width="1.0"/>
<line x1="279.90" y1="347.09" x2="287.10" y2="347.09" stroke="#4f8a58" stroke-width="1.1"/>
<line x1="279.90" y1="426.03" x2="287.10" y2="426.03" stroke="#4f8a58" stroke-width="1.1"/>
<line x1="311.50" y1="346.27" x2="311.50" y2="433.88" stroke="#70a878" stroke-width="1.0"/>
<line x1="307.90" y1="346.27" x2="315.10" y2="346.27" stroke="#4f8a58" stroke-width="1.1"/>
<line x1="307.90" y1="433.88" x2="315.10" y2="433.88" stroke="#4f8a58" stroke-width="1.1"/>
<line x1="504.50" y1="375.61" x2="504.50" y2="410.74" stroke="#70a878" stroke-width="1.0"/>
<line x1="500.90" y1="375.61" x2="508.10" y2="375.61" stroke="#4f8a58" stroke-width="1.1"/>
<line x1="500.90" y1="410.74" x2="508.10" y2="410.74" stroke="#4f8a58" stroke-width="1.1"/>
<polyline points="90.00,385.12 117.63,376.44 145.26,367.34 172.89,364.45 200.52,363.62 228.15,365.28 255.78,367.34 283.41,362.38 311.04,380.16 338.67,370.65 366.30,379.33 393.93,368.17 421.56,368.17" fill="none" stroke="#a8163f" stroke-width="1.35" stroke-linejoin="round"/>
<path d="M86.00 385.12 H94.00 M90.00 381.12 V389.12" stroke="#a8163f" stroke-width="1"/>
<path d="M113.63 376.44 H121.63 M117.63 372.44 V380.44" stroke="#a8163f" stroke-width="1"/>
<path d="M141.26 367.34 H149.26 M145.26 363.34 V371.34" stroke="#a8163f" stroke-width="1"/>
<path d="M168.89 364.45 H176.89 M172.89 360.45 V368.45" stroke="#a8163f" stroke-width="1"/>
<path d="M196.52 363.62 H204.52 M200.52 359.62 V367.62" stroke="#a8163f" stroke-width="1"/>
<path d="M224.15 365.28 H232.15 M228.15 361.28 V369.28" stroke="#a8163f" stroke-width="1"/>
<path d="M251.78 367.34 H259.78 M255.78 363.34 V371.34" stroke="#a8163f" stroke-width="1"/>
<path d="M279.41 362.38 H287.41 M283.41 358.38 V366.38" stroke="#a8163f" stroke-width="1"/>
<path d="M307.04 380.16 H315.04 M311.04 376.16 V384.16" stroke="#a8163f" stroke-width="1"/>
<path d="M334.67 370.65 H342.67 M338.67 366.65 V374.65" stroke="#a8163f" stroke-width="1"/>
<path d="M362.30 379.33 H370.30 M366.30 375.33 V383.33" stroke="#a8163f" stroke-width="1"/>
<path d="M389.93 368.17 H397.93 M393.93 364.17 V372.17" stroke="#a8163f" stroke-width="1"/>
<path d="M417.56 368.17 H425.56 M421.56 364.17 V372.17" stroke="#a8163f" stroke-width="1"/>
<path d="M500.45 356.60 H508.45 M504.45 352.60 V360.60" stroke="#a8163f" stroke-width="1"/>
<polyline points="90.00,395.03 117.63,380.16 145.26,383.05 172.89,384.29 200.52,368.17 228.15,390.49 255.78,389.66 283.41,386.77 311.04,390.07 338.67,335.93 366.30,348.33 393.93,354.53 421.56,327.25 449.19,368.58 476.82,326.84" fill="none" stroke="#2f8540" stroke-width="1.1" stroke-linejoin="round"/>
<circle cx="90.00" cy="395.03" r="3.0" fill="none" stroke="#2f8540" stroke-width="1"/>
<circle cx="117.63" cy="380.16" r="3.0" fill="none" stroke="#2f8540" stroke-width="1"/>
<circle cx="145.26" cy="383.05" r="3.0" fill="none" stroke="#2f8540" stroke-width="1"/>
<circle cx="172.89" cy="384.29" r="3.0" fill="none" stroke="#2f8540" stroke-width="1"/>
<circle cx="200.52" cy="368.17" r="3.0" fill="none" stroke="#2f8540" stroke-width="1"/>
<circle cx="228.15" cy="390.49" r="3.0" fill="none" stroke="#2f8540" stroke-width="1"/>
<circle cx="255.78" cy="389.66" r="3.0" fill="none" stroke="#2f8540" stroke-width="1"/>
<circle cx="283.41" cy="386.77" r="3.0" fill="none" stroke="#2f8540" stroke-width="1"/>
<circle cx="311.04" cy="390.07" r="3.0" fill="none" stroke="#2f8540" stroke-width="1"/>
<circle cx="338.67" cy="335.93" r="3.0" fill="none" stroke="#2f8540" stroke-width="1"/>
<circle cx="366.30" cy="348.33" r="3.0" fill="none" stroke="#2f8540" stroke-width="1"/>
<circle cx="393.93" cy="354.53" r="3.0" fill="none" stroke="#2f8540" stroke-width="1"/>
<circle cx="421.56" cy="327.25" r="3.0" fill="none" stroke="#2f8540" stroke-width="1"/>
<circle cx="449.19" cy="368.58" r="3.0" fill="none" stroke="#2f8540" stroke-width="1"/>
<circle cx="476.82" cy="326.84" r="3.0" fill="none" stroke="#2f8540" stroke-width="1"/>
<circle cx="504.45" cy="393.79" r="3.0" fill="none" stroke="#2f8540" stroke-width="1"/>
</svg>
</body></html>
